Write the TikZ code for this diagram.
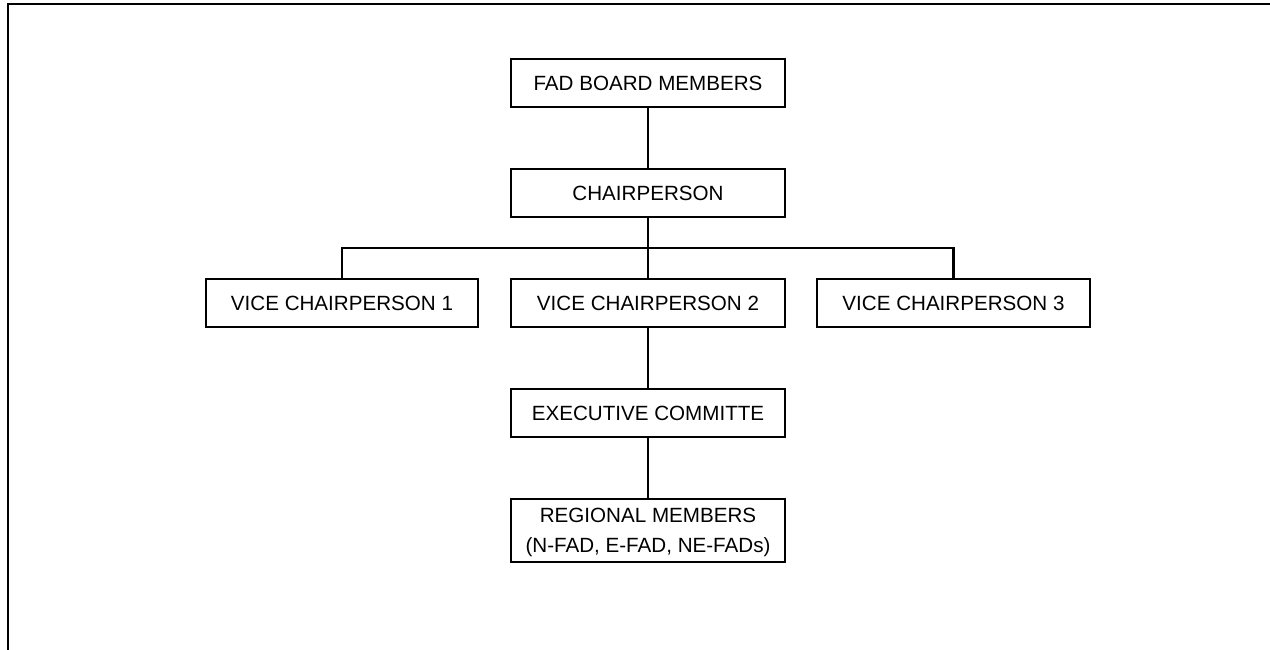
\documentclass[tikz,border=0pt]{standalone}
\usepackage{fontspec}
\setmainfont{Liberation Sans}
\begin{document}
\begin{tikzpicture}[x=1pt,y=-1pt,
  orgbox/.style={draw, line width=2.2pt, rectangle, inner sep=0pt,
    minimum width=274pt, minimum height=48pt, align=center,
    font=\fontsize{20.6}{29.5}\selectfont},
  link/.style={line width=2.2pt}]
  \useasboundingbox (0,0) rectangle (1270,650);
  % frame
  \draw[line width=2pt] (1270,4) -- (7.8,4) -- (7.8,650);
  % boxes
  \node[orgbox] (board) at (648,83) {FAD BOARD MEMBERS};
  \node[orgbox] (chair) at (648,193) {CHAIRPERSON};
  \node[orgbox, minimum width=272pt] (vc1) at (342,303) {VICE CHAIRPERSON 1};
  \node[orgbox] (vc2) at (648,303) {VICE CHAIRPERSON 2};
  \node[orgbox, minimum width=273pt] (vc3) at (953.5,303) {VICE CHAIRPERSON 3};
  \node[orgbox] (exec) at (648,413) {EXECUTIVE COMMITTE};
  \node[orgbox, minimum height=63pt, text depth=0pt] (reg) at (648,530.5) {REGIONAL MEMBERS\\(N-FAD, E-FAD, NE-FADs)};
  \coordinate (bus) at (648,248);
  % connectors
  \draw[link] (board.south) -- (chair.north);
  \draw[link] (chair.south) -- (vc2.north);
  \draw[link] (vc1.north) |- (bus) -| (vc3.north);
  \draw[link] (vc2.south) -- (exec.north);
  \draw[link] (exec.south) -- (reg.north);
\end{tikzpicture}
\end{document}
